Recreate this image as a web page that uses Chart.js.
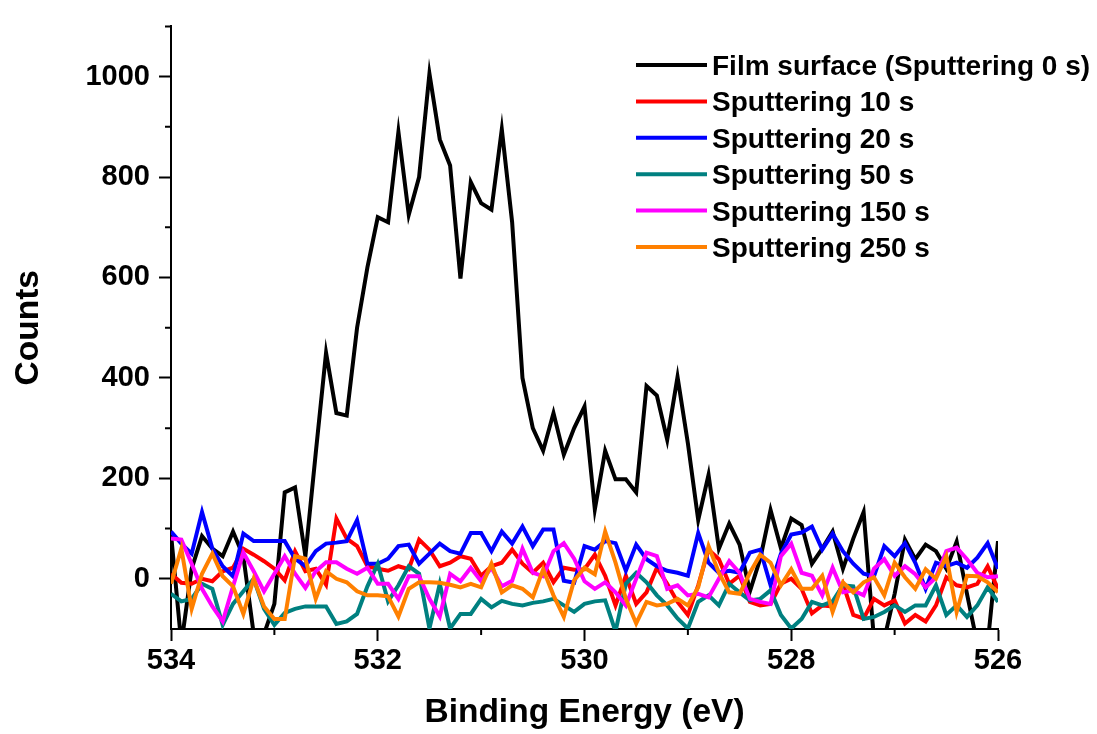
<!DOCTYPE html>
<html>
<head>
<meta charset="utf-8">
<script src="https://cdn.jsdelivr.net/npm/chart.js@4.4.1/dist/chart.umd.min.js"></script>
<style>
  html, body { margin: 0; padding: 0; background: #fff; }
  #wrap { width: 1097px; height: 734px; }
</style>
</head>
<body>
<div id="wrap"><canvas id="xps" width="1097" height="734"></canvas></div>
<script>
// binding energy grid (eV)
var energies = [
  534.0, 533.9, 533.8, 533.7, 533.6, 533.5, 533.4, 533.3, 533.2, 533.1,
  533.0, 532.9, 532.8, 532.7, 532.6, 532.5, 532.4, 532.3, 532.2, 532.1,
  532.0, 531.9, 531.8, 531.7, 531.6, 531.5, 531.4, 531.3, 531.2, 531.1,
  531.0, 530.9, 530.8, 530.7, 530.6, 530.5, 530.4, 530.3, 530.2, 530.1,
  530.0, 529.9, 529.8, 529.7, 529.6, 529.5, 529.4, 529.3, 529.2, 529.1,
  529.0, 528.9, 528.8, 528.7, 528.6, 528.5, 528.4, 528.3, 528.2, 528.1,
  528.0, 527.9, 527.8, 527.7, 527.6, 527.5, 527.4, 527.3, 527.2, 527.1,
  527.0, 526.9, 526.8, 526.7, 526.6, 526.5, 526.4, 526.3, 526.2, 526.1,
  526.0
];

var seriesNames = [
  'Film surface (Sputtering 0 s)',
  'Sputtering 10 s',
  'Sputtering 20 s',
  'Sputtering 50 s',
  'Sputtering 150 s',
  'Sputtering 250 s'
];

var sput0 = [
  90, -130, 20, 85, 60, 45, 94, 45, -110, -110,
  -50, 172, 182, 45, 250, 450, 330, 325, 500, 620,
  720, 710, 890, 725, 800, 1006, 875, 823, 598, 790,
  748, 735, 895, 710, 400, 300, 255, 330, 247, 300,
  343, 138, 255, 198, 198, 172, 384, 365, 277, 402,
  270, 117, 207, 60, 110, 68, -25, 40, 137, 61,
  120, 107, 30, 60, 94, 20, 80, 133, -120, -120,
  -30, 78, 39, 68, 55, 20, 74, -30, -130, -130,
  75
];
var sput10 = [
  10, -8, -10, 0, -5, 15, 22, 60, 48, 35,
  20, -3, 55, 15, 20, -12, 120, 80, 65, 25,
  20, 16, 25, 19, 78, 58, 25, 32, 45, 40,
  6, 25, 32, 58, 30, 12, 32, -7, 22, 18,
  19, 48, 6, -53, 6, -50, -27, 22, -10, -46,
  -72, -13, 58, 39, -10, 6, -46, -53, -50, -10,
  0, -20, -69, -53, -55, -10, -72, -79, -40, -53,
  -43, -89, -72, -85, -53, 3, -13, -17, -10, 25,
  -20
];
var sput20 = [
  94, 70, 50, 133, 60, 25, 5, 90, 75, 75,
  75, 75, 40, 25, 55, 70, 72, 75, 117, 30,
  30, 40, 65, 68, 30, 50, 70, 55, 50, 91,
  91, 55, 94, 70, 104, 65, 98, 98, -4, -8,
  65, 58, 75, 71, 16, 68, 39, 25, 16, 12,
  6, 91, 32, 12, 16, 12, 52, 58, -13, 50,
  88, 92, 104, 58, 90, 55, 30, 10, 5, 65,
  45, 71, 32, -20, 32, 25, 32, 22, 42, 71,
  20
];
var sput50 = [
  -30, -45, -40, -10, -20, -92, -50, -25, 0, -60,
  -92, -68, -60, -55, -55, -55, -90, -85, -70, -15,
  30, -45, -13, 25, 10, -99, -10, -99, -70, -70,
  -40, -57, -44, -50, -53, -48, -45, -40, -53, -66,
  -50, -45, -43, -105, -10, 12, -7, -33, -53, -79,
  -99, -46, -33, -53, -10, -27, -43, -40, -23, -72,
  -99, -80, -46, -53, -45, -13, -15, -80, -76, -66,
  -53, -66, -53, -53, -13, -72, -53, -76, -53, -17,
  -46
];
var sput150 = [
  80, 78, 30, -20, -55, -85, -15, 52, 15, -25,
  10, 45, 10, -18, 15, 33, 33, 20, 10, 22,
  -10, -10, -40, 5, 5, -40, -75, 10, -5, 22,
  -5, 22, -15, -4, 60, 12, 5, 55, 71, 40,
  -5, -20, -7, -27, -53, 0, 52, 45, -20, -13,
  -33, -30, -37, 0, 35, 12, -40, -46, -50, 45,
  70, 12, 6, -33, 22, -27, -23, -33, 20, 39,
  6, 25, 9, -17, 3, 55, 62, 39, 12, 3,
  5
];
var sput250 = [
  -10, 60, -60, 10, 50, 5, -15, -70, 0, -55,
  -80, -80, 45, 40, -40, 15, 0, -7, -25, -33,
  -33, -35, -75, -20, -7, -7, -8, -12, -17, -10,
  -17, 30, -27, -13, -20, -37, 19, -33, -76, -3,
  22, 9, 94, 32, -40, -89, -46, -53, -50, -40,
  -53, -17, 65, 12, -27, -30, 12, 48, 32, -13,
  19, -20, -20, 6, -66, -7, -27, -7, 3, -33,
  32, 3, -20, 19, 0, 45, -66, 6, 5, -7,
  -27
];

var seriesColors = ['#000000', '#ff0000', '#0000ff', '#008080', '#ff00ff', '#ff8000'];
var allSeries = [sput0, sput10, sput20, sput50, sput150, sput250];

var FONT = '"Liberation Sans", Arial, sans-serif';

function isMajorX(v) { return Math.round(v) % 2 === 0; }
function isMajorY(v) { return v >= 0 && v <= 1000 && Math.round(v) % 200 === 0; }

// short minor ticks, outward
const minorTicks = {
  id: 'minorTicks',
  afterDraw(chart) {
    const ctx = chart.ctx;
    const xs = chart.scales.x, ys = chart.scales.y;
    ctx.save();
    ctx.strokeStyle = '#000';
    ctx.lineWidth = 2;
    ctx.beginPath();
    xs.ticks.forEach(t => {
      if (!isMajorX(t.value)) {
        const px = xs.getPixelForValue(t.value);
        ctx.moveTo(px, xs.top);
        ctx.lineTo(px, xs.top + 6);
      }
    });
    ys.ticks.forEach(t => {
      if (!isMajorY(t.value) && t.value > ys.min) {
        const py = ys.getPixelForValue(t.value);
        ctx.moveTo(ys.right, py);
        ctx.lineTo(ys.right - 6, py);
      }
    });
    ctx.stroke();
    ctx.restore();
  }
};

// legend in a column at top right, inside the plot
const legendBox = {
  id: 'legendBox',
  afterDraw(chart) {
    const ctx = chart.ctx;
    ctx.save();
    ctx.font = 'bold 28px ' + FONT;
    ctx.textBaseline = 'alphabetic';
    ctx.textAlign = 'left';
    chart.data.datasets.forEach((ds, i) => {
      const y = 65 + i * 36.4;
      ctx.strokeStyle = ds.borderColor;
      ctx.lineWidth = 4;
      ctx.beginPath();
      ctx.moveTo(636, y);
      ctx.lineTo(707, y);
      ctx.stroke();
      ctx.fillStyle = '#000';
      ctx.fillText(ds.label, 712, y + 10);
    });
    ctx.restore();
  }
};

var datasets = allSeries.map(function (s, i) {
  return {
    label: seriesNames[i],
    data: energies.map(function (e, j) { return { x: e, y: s[j] }; }),
    borderColor: seriesColors[i],
    backgroundColor: seriesColors[i],
    borderWidth: 4,
    pointRadius: 0,
    tension: 0,
    fill: false,
    order: allSeries.length - i
  };
});

const config = {
  type: 'line',
  data: { datasets: datasets },
  options: {
    responsive: false,
    animation: false,
    devicePixelRatio: 1,
    layout: { padding: { top: 17, right: 99, left: 0, bottom: 0 } },
    plugins: {
      legend: { display: false },
      tooltip: { enabled: false }
    },
    scales: {
      x: {
        type: 'linear',
        reverse: true,
        min: 526,
        max: 534,
        afterFit: function (s) { s.height = 105; },
        border: { display: true, color: '#000', width: 2 },
        grid: {
          display: true,
          drawOnChartArea: false,
          drawTicks: true,
          tickLength: 12,
          tickWidth: 2,
          tickColor: function (c) { return isMajorX(c.tick.value) ? '#000' : 'rgba(0,0,0,0)'; }
        },
        ticks: {
          stepSize: 1,
          autoSkip: false,
          maxRotation: 0,
          padding: 3,
          color: '#000',
          font: { family: FONT, size: 29, weight: 'bold' },
          callback: function (v) { return isMajorX(v) ? String(v) : ''; }
        },
        title: {
          display: true,
          text: 'Binding Energy (eV)',
          color: '#000',
          font: { family: FONT, size: 33.5, weight: 'bold', lineHeight: 1 },
          padding: { top: 0, bottom: 4 }
        }
      },
      y: {
        type: 'linear',
        min: -100,
        max: 1100,
        afterFit: function (s) { s.width = 171; },
        border: { display: true, color: '#000', width: 2 },
        grid: {
          display: true,
          drawOnChartArea: false,
          drawTicks: true,
          tickLength: 12,
          tickWidth: 2,
          tickColor: function (c) { return isMajorY(c.tick.value) ? '#000' : 'rgba(0,0,0,0)'; }
        },
        ticks: {
          stepSize: 100,
          autoSkip: false,
          padding: 9,
          color: '#000',
          font: { family: FONT, size: 29, weight: 'bold' },
          callback: function (v) { return isMajorY(v) ? String(v) : ''; }
        },
        title: {
          display: true,
          text: 'Counts',
          color: '#000',
          font: { family: FONT, size: 33.5, weight: 'bold', lineHeight: 1 },
          padding: { top: 12, bottom: 0 }
        }
      }
    }
  },
  plugins: [minorTicks, legendBox]
};

var myChart = new Chart(document.getElementById('xps'), config);
</script>
</body>
</html>
